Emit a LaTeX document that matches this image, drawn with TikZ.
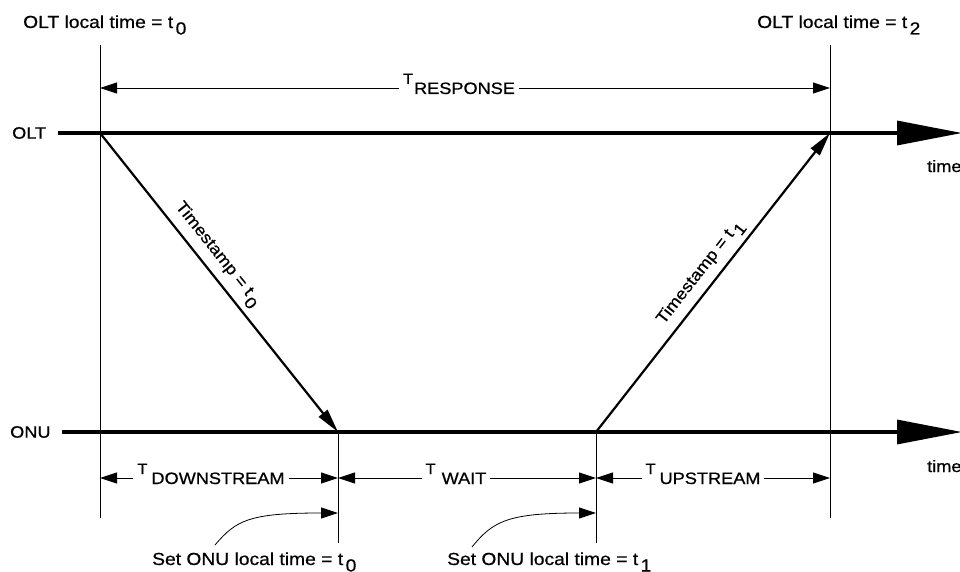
\documentclass[tikz,border=0pt]{standalone}
\usepackage{fontspec}
\setmainfont{Liberation Sans}
\newfontfamily\lblfont[FakeStretch=1.1,FakeBold=0.6]{Liberation Sans}
\usetikzlibrary{arrows.meta}

% subscripted time value, e.g. t_0
\newcommand{\tval}[2]{#1\hspace{2.5pt}\raisebox{-6.5pt}{#2}}
% interval label with a raised T
\newcommand{\tlab}[2][4pt]{\raisebox{10pt}{\fontsize{15}{15}\selectfont T}\hspace{#1}#2}

\begin{document}
\begin{tikzpicture}[x=1pt,y=-1pt,
  timeline/.style={line width=3.3pt,-{Triangle[length=65pt,width=24pt]}},
  guide/.style={line width=0.9pt},
  dim/.style={line width=0.9pt,{Triangle[length=17pt,width=11pt]}-{Triangle[length=17pt,width=11pt]}},
  msg/.style={line width=2.2pt,-{Triangle[length=24pt,width=11pt]}},
  leader/.style={line width=0.8pt,-{Triangle[length=17pt,width=11pt]}},
  big/.style={font=\lblfont\fontsize{17.5}{20}\selectfont,inner sep=0pt},
  lbl/.style={font=\lblfont\fontsize{16.5}{18}\selectfont,inner sep=0pt},
  dimlbl/.style={lbl,fill=white,inner xsep=4pt,inner ysep=1pt,anchor=base}]
\useasboundingbox (0,0) rectangle (960,572);

% station names and time axes
\node[lbl,anchor=west] (oltname) at (12,133) {OLT};
\node[lbl,anchor=west] (onuname) at (10,432) {ONU};
\coordinate (oltstart) at (58,133);
\coordinate (oltend) at (962,133);
\coordinate (onustart) at (62,432);
\coordinate (onuend) at (962,432);
\draw[timeline] (oltstart) -- (oltend);
\draw[timeline] (onustart) -- (onuend);
\node[lbl,anchor=base west] (timeolt) at (927,172) {time};
\node[lbl,anchor=base west] (timeonu) at (927,472) {time};

% events
\coordinate (send) at (100,133);
\coordinate (recv) at (338,432);
\coordinate (reply) at (596,432);
\coordinate (back) at (830,133);

% vertical guide lines
\coordinate (g1top) at (100,45);
\coordinate (g1bot) at (100,518);
\coordinate (g4top) at (830,45);
\coordinate (g4bot) at (830,518);
\coordinate (g2bot) at (338,543);
\coordinate (g3bot) at (596,543);
\draw[guide] (g1top) -- (g1bot);
\draw[guide] (g4top) -- (g4bot);
\draw[guide] (recv) -- (g2bot);
\draw[guide] (reply) -- (g3bot);

% top labels
\node[big,anchor=base west] (lt0) at (23,28) {OLT local time = \tval{t}{0}};
\node[big,anchor=base west] (lt2) at (757,28) {OLT local time = \tval{t}{2}};

% messages
\draw[msg] (send) -- node[lbl,sloped,above=5pt,pos=0.44] (ts0) {Timestamp = \tval{t}{0}} (recv);
\draw[msg] (reply) -- node[lbl,sloped,above=5pt,pos=0.5] (ts1) {Timestamp = \tval{t}{1}} (back);

% interval dimensions
\coordinate (r1) at (100,88);
\coordinate (r2) at (830,88);
\draw[dim] (r1) -- (r2);
\node[dimlbl] (tresp) at (459,94) {\tlab[1pt]{RESPONSE}};

\coordinate (d1) at (100,478);
\coordinate (d2) at (338,478);
\coordinate (d3) at (596,478);
\coordinate (d4) at (830,478);
\draw[dim] (d1) -- (d2);
\draw[dim] (d2) -- (d3);
\draw[dim] (d3) -- (d4);
\node[dimlbl] (tdown) at (211,484) {\tlab{DOWNSTREAM}};
\node[dimlbl] (twait) at (456,484) {\tlab[6pt]{WAIT}};
\node[dimlbl] (tup) at (703,484) {\tlab{UPSTREAM}};

% local time settings at the ONU
\node[big,anchor=base west] (set0) at (152,565) {Set ONU local time = \tval{t}{0}};
\node[big,anchor=base west] (set1) at (447,565) {Set ONU local time = \tval{t}{1}};
\coordinate (l0s) at (215,545);
\coordinate (l0e) at (338,513);
\coordinate (l1s) at (472,547);
\coordinate (l1e) at (596,513);
\draw[leader] (l0s) .. controls (236,520) and (250,513) .. (l0e);
\draw[leader] (l1s) .. controls (493,521) and (508,513) .. (l1e);
\end{tikzpicture}
\end{document}
